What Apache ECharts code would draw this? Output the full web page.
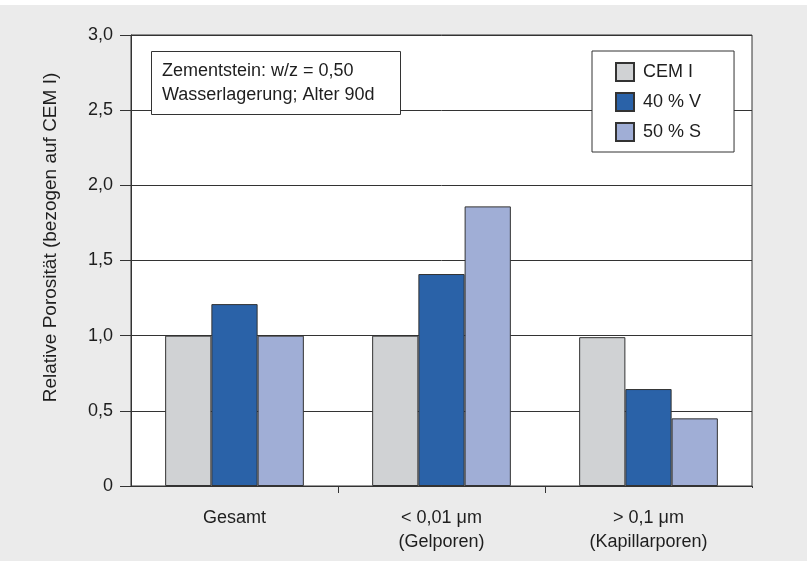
<!DOCTYPE html>
<html><head><meta charset="utf-8">
<script src="https://cdn.jsdelivr.net/npm/echarts@6/dist/echarts.min.js"></script>
<style>html,body{margin:0;padding:0;background:#fff}#c{width:807px;height:563px}</style>
</head><body><div id="c"></div>
<script>
const categories = ['Gesamt', '< 0,01 μm\n(Gelporen)', '> 0,1 μm\n(Kapillarporen)'];
const seriesNames = ['CEM I', '40 % V', '50 % S'];
const cem1 = [1.0, 1.0, 0.99];
const v40 = [1.21, 1.41, 0.645];
const s50 = [1.0, 1.86, 0.45];
const colors = ['#d0d2d4', '#2a62a8', '#a0aed6'];
const yTicks = [0, 0.5, 1.0, 1.5, 2.0, 2.5, 3.0];
const annotation = 'Zementstein: w/z = 0,50\nWasserlagerung; Alter 90d';
const yName = 'Relative Porosität (bezogen auf CEM I)';

const FONT = 'Liberation Sans, Arial, Helvetica, sans-serif';
const chart = echarts.init(document.getElementById('c'), null, {renderer: 'canvas'});
const data = [cem1, v40, s50];
chart.setOption({
  backgroundColor: '#ffffff',
  animation: false,
  graphic: [
    {type: 'rect', z: -10, silent: true, shape: {x: 0, y: 5, width: 807, height: 556}, style: {fill: '#ebebeb'}},
    {type: 'rect', z: 100, silent: true, shape: {x: 749, y: 488, width: 8, height: 9}, style: {fill: '#ebebeb'}}
  ],
  title: {
    text: annotation, left: 151, top: 51,
    padding: [8, 26, 8, 11],
    backgroundColor: '#fff', borderColor: '#333', borderWidth: 1,
    textStyle: {fontFamily: FONT, fontSize: 18, fontWeight: 'normal', color: '#1e1e1e', lineHeight: 24}
  },
  legend: {
    data: seriesNames, orient: 'vertical', left: 592, top: 51,
    padding: [11, 33, 10, 23], itemGap: 10, itemWidth: 18, itemHeight: 18,
    backgroundColor: '#fff', borderColor: '#333', borderWidth: 1,
    icon: 'rect',
    textStyle: {fontFamily: FONT, fontSize: 18, lineHeight: 18, color: '#1e1e1e', padding: [0, 0, 0, 4]}
  },
  grid: {left: 131, right: 55, top: 35, bottom: 77, show: true, backgroundColor: '#fff', borderColor: '#333', borderWidth: 1},
  xAxis: {
    type: 'category', data: categories,
    axisLine: {show: true, lineStyle: {color: '#333', width: 1}},
    axisTick: {show: true, length: 7, lineStyle: {color: '#333'}, interval: (i) => i !== 0},
    axisLabel: {fontFamily: FONT, fontSize: 18, color: '#1e1e1e', margin: 20, lineHeight: 24}
  },
  yAxis: {
    type: 'value', min: 0, max: 3, interval: 0.5,
    name: yName, nameLocation: 'middle', nameGap: 71, nameRotate: 90,
    nameTextStyle: {fontFamily: FONT, fontSize: 19, color: '#1e1e1e', padding: [0, 0, 0, 46]},
    axisLine: {show: true, lineStyle: {color: '#333'}},
    axisTick: {show: true, inside: false, length: 11, lineStyle: {color: '#333'}},
    axisLabel: {fontFamily: FONT, fontSize: 18, color: '#1e1e1e', margin: 18,
      formatter: v => yTicks.includes(v) ? (v === 0 ? '0' : v.toFixed(1).replace('.', ',')) : ''},
    splitLine: {show: true, lineStyle: {color: '#333', width: 1}}
  },
  series: seriesNames.map((n, i) => ({
    name: n, type: 'bar', data: data[i], barGap: '0%', barCategoryGap: '33%',
    itemStyle: {color: colors[i], borderColor: '#333', borderWidth: 1}
  }))
});
</script></body></html>
